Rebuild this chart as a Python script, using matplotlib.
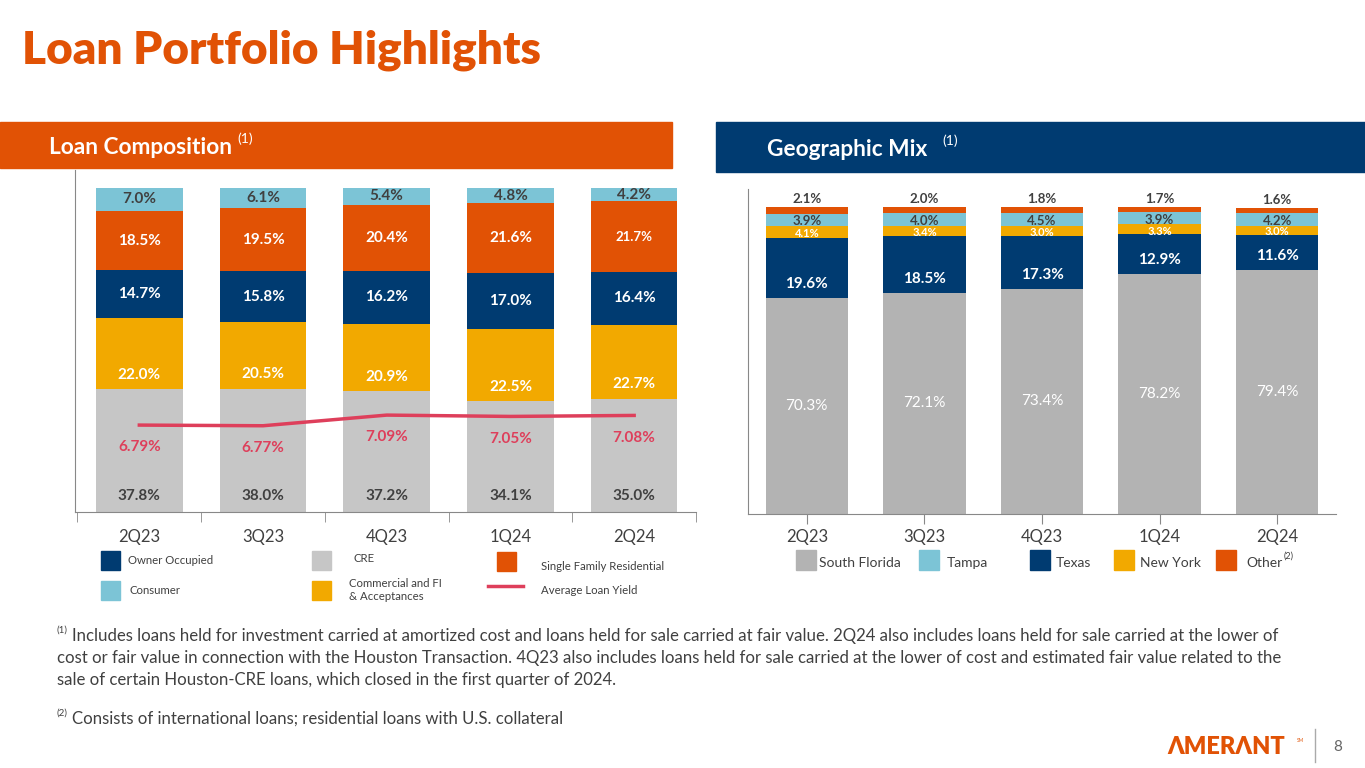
import numpy as np
import matplotlib
matplotlib.use("Agg")
import matplotlib.pyplot as plt
from matplotlib.patches import Rectangle
from matplotlib.lines import Line2D

plt.rcParams['font.family'] = ['Lato', 'DejaVu Sans']

# ---- data ----
quarters = ["2Q23", "3Q23", "4Q23", "1Q24", "2Q24"]

cre = [37.8, 38.0, 37.2, 34.1, 35.0]
commercial = [22.0, 20.5, 20.9, 22.5, 22.7]
owner_occupied = [14.7, 15.8, 16.2, 17.0, 16.4]
single_family = [18.5, 19.5, 20.4, 21.6, 21.7]
consumer = [7.0, 6.1, 5.4, 4.8, 4.2]
avg_yield = [6.79, 6.77, 7.09, 7.05, 7.08]

south_florida = [70.3, 72.1, 73.4, 78.2, 79.4]
texas = [19.6, 18.5, 17.3, 12.9, 11.6]
new_york = [4.1, 3.4, 3.0, 3.3, 3.0]
tampa = [3.9, 4.0, 4.5, 3.9, 4.2]
other = [2.1, 2.0, 1.8, 1.7, 1.6]

ORANGE = "#E15205"
NAVY = "#003B71"
LBLUE = "#7CC4D6"
YELLOW = "#F2A900"
GRAY_L = "#C6C6C6"
GRAY_R = "#B3B3B3"
RED = "#DE3F5B"
DARK = "#404040"

W, H = 1365, 768
fig = plt.figure(figsize=(W / 100, H / 100), dpi=100)
fig.patch.set_facecolor("white")


def px_axes(x0, y0, x1, y1):
    # pixel box (top-left origin) -> figure axes
    return fig.add_axes([x0 / W, 1 - y1 / H, (x1 - x0) / W, (y1 - y0) / H])


def ftext(x, y, s, **kw):
    fig.text(x / W, 1 - y / H, s, **kw)


def sq(xp, yp, col, size=19):
    fig.patches.append(Rectangle((xp / W, 1 - (yp + size / 2) / H),
                                 size / W, size / H,
                                 transform=fig.transFigure, color=col))


# ---- title and header bands ----
ftext(22, 50, "Loan Portfolio Highlights", color=ORANGE, fontsize=33,
      fontweight="heavy", va="center", ha="left")

fig.patches.append(Rectangle((0, 1 - 168 / H), 672 / W, 46 / H,
                             transform=fig.transFigure, color=ORANGE))
fig.patches.append(Rectangle((716 / W, 1 - 172 / H), (W - 716) / W, 50 / H,
                             transform=fig.transFigure, color=NAVY))
ftext(49, 147, "Loan Composition", color="white", fontsize=16.3,
      fontweight="bold", va="center")
ftext(237, 139, "(1)", color="white", fontsize=10, va="center")
ftext(767, 149, "Geographic Mix", color="white", fontsize=16.3,
      fontweight="bold", va="center")
ftext(942, 141, "(1)", color="white", fontsize=10, va="center")

# ---- left chart: loan composition ----
ax = px_axes(75, 170, 696, 512)
x = np.arange(len(quarters))
bw = 0.7
segs = [
    (cre, GRAY_L, DARK),
    (commercial, YELLOW, "white"),
    (owner_occupied, NAVY, "white"),
    (single_family, ORANGE, "white"),
    (consumer, LBLUE, DARK),
]
bottom = np.zeros(len(quarters))
for k, (vals, col, tcol) in enumerate(segs):
    vals = np.array(vals)
    ax.bar(x, vals, bw, bottom=bottom, color=col, zorder=2)
    for i, v in enumerate(vals):
        if k == 0:
            ypos = bottom[i] + 5
        elif k == 1:
            ypos = bottom[i] + 4.5
        else:
            ypos = bottom[i] + v / 2
        fs = 9.5 if (k == 3 and i == 4) else 11
        ax.text(x[i], ypos, f"{v:.1f}%", ha="center", va="center",
                color=tcol, fontsize=fs, fontweight="bold", zorder=4)
    bottom += vals

ax.set_xlim(-0.52, 4.5)
ax.set_ylim(0, 105.5)
ax.set_yticks([])
ax.set_xticks(x)
ax.set_xticklabels(quarters, fontsize=12, color=DARK)
ax.tick_params(axis="x", which="major", length=0, pad=12)
ax.set_xticks(np.arange(-0.5, 5, 1), minor=True)
ax.tick_params(axis="x", which="minor", length=7, direction="out",
               color="#888888")
for s in ["top", "right"]:
    ax.spines[s].set_visible(False)
ax.spines["left"].set_color("#888888")
ax.spines["bottom"].set_color("#888888")

ax2 = ax.twinx()
ax2.set_ylim(4.18, 14.45)
ax2.plot(x, avg_yield, color=RED, lw=2.5, zorder=5)
for i, v in enumerate(avg_yield):
    ax2.annotate(f"{v:.2f}%", (x[i], v), xytext=(0, -16),
                 textcoords="offset points", ha="center", va="center",
                 color=RED, fontsize=11, fontweight="bold")
ax2.axis("off")

# left legend
sq(101, 560, NAVY)
ftext(128, 560, "Owner Occupied", fontsize=8.2, color=DARK, va="center")
sq(101, 590, LBLUE)
ftext(130, 590, "Consumer", fontsize=8.2, color=DARK, va="center")
sq(312, 560, GRAY_L)
ftext(353, 559, "CRE", fontsize=8.2, color=DARK, va="center")
sq(312, 590, YELLOW)
ftext(349, 590, "Commercial and FI\n& Acceptances", fontsize=8.2,
      color=DARK, va="center", linespacing=1.15)
sq(497, 561, ORANGE)
ftext(541, 567, "Single Family Residential", fontsize=8.2, color=DARK,
      va="center")
fig.lines.append(Line2D([488 / W, 523 / W], [1 - 586 / H, 1 - 586 / H],
                        transform=fig.transFigure, color=RED, lw=2.5))
ftext(541, 591, "Average Loan Yield", fontsize=8.2, color=DARK, va="center")

# ---- right chart: geographic mix ----
bx = px_axes(748, 189, 1336, 514)
bw2 = 0.7
geo = [
    (south_florida, GRAY_R, "white", 11),
    (texas, NAVY, "white", 11),
    (new_york, YELLOW, "white", 8),
    (tampa, LBLUE, DARK, 9.5),
    (other, ORANGE, DARK, 9.5),
]
bottom = np.zeros(len(quarters))
for k, (vals, col, tcol, fs) in enumerate(geo):
    vals = np.array(vals)
    bx.bar(x, vals, bw2, bottom=bottom, color=col, zorder=2)
    for i, v in enumerate(vals):
        if k == 4:
            ypos = bottom[i] + v + 2.5
        elif k == 1:
            ypos = bottom[i] + 4.6
        elif k == 0:
            ypos = bottom[i] + v / 2
        else:
            ypos = bottom[i] + v / 2 - 0.6
        bx.text(x[i], ypos, f"{v:.1f}%", ha="center", va="center",
                color=tcol, fontsize=fs,
                fontweight="normal" if k == 0 else "bold", zorder=4)
    bottom += vals

bx.set_xlim(-0.5, 4.5)
bx.set_ylim(0, 105.9)
bx.set_yticks([])
bx.set_xticks(x)
bx.set_xticklabels(quarters, fontsize=12, color=DARK)
bx.tick_params(axis="x", length=7, direction="out", color="#888888", pad=4)
for s in ["top", "right"]:
    bx.spines[s].set_visible(False)
bx.spines["left"].set_color("#888888")
bx.spines["bottom"].set_color("#888888")

# right legend
geo_legend = [(796, 819, "South Florida", GRAY_R), (919, 947, "Tampa", LBLUE),
              (1030, 1056, "Texas", NAVY), (1114, 1140, "New York", YELLOW),
              (1216, 1246, "Other", ORANGE)]
for xs, xt, lab, col in geo_legend:
    sq(xs, 560, col, size=20)
    ftext(xt, 563, lab, fontsize=10, color=DARK, va="center")
ftext(1284, 556, "(2)", fontsize=6.5, color=DARK, va="center")

# ---- footnotes ----
note1 = ("Includes loans held for investment carried at amortized cost and loans held for sale carried at fair value. "
         "2Q24 also includes loans held for sale carried at the lower of")
note2 = ("cost or fair value in connection with the Houston Transaction. 4Q23 also includes loans held for sale carried "
         "at the lower of cost and estimated fair value related to the")
note3 = "sale of certain Houston-CRE loans, which closed in the first quarter of 2024."
note4 = "Consists of international loans; residential loans with U.S. collateral"
FN = 12.1
ftext(57, 630, "(1)", fontsize=7, color=DARK, va="center")
ftext(72, 636, note1, fontsize=FN, color=DARK, va="center")
ftext(57, 658, note2, fontsize=FN, color=DARK, va="center")
ftext(57, 680, note3, fontsize=FN, color=DARK, va="center")
ftext(57, 713, "(2)", fontsize=7, color=DARK, va="center")
ftext(72, 719, note4, fontsize=FN, color=DARK, va="center")

# ---- logo and page number ----
ftext(1167, 747, "ΛMERΛNT", fontsize=17, fontweight="heavy", color=ORANGE,
      va="center")
ftext(1297, 740, "SM", fontsize=3.5, color=ORANGE, va="center")
fig.lines.append(Line2D([1315 / W, 1315 / W], [1 - 729 / H, 1 - 762 / H],
                        transform=fig.transFigure, color="#AAAAAA", lw=1))
ftext(1333, 747, "8", fontsize=11, color="#666666", va="center")

fig.savefig("out.png", dpi=100)
